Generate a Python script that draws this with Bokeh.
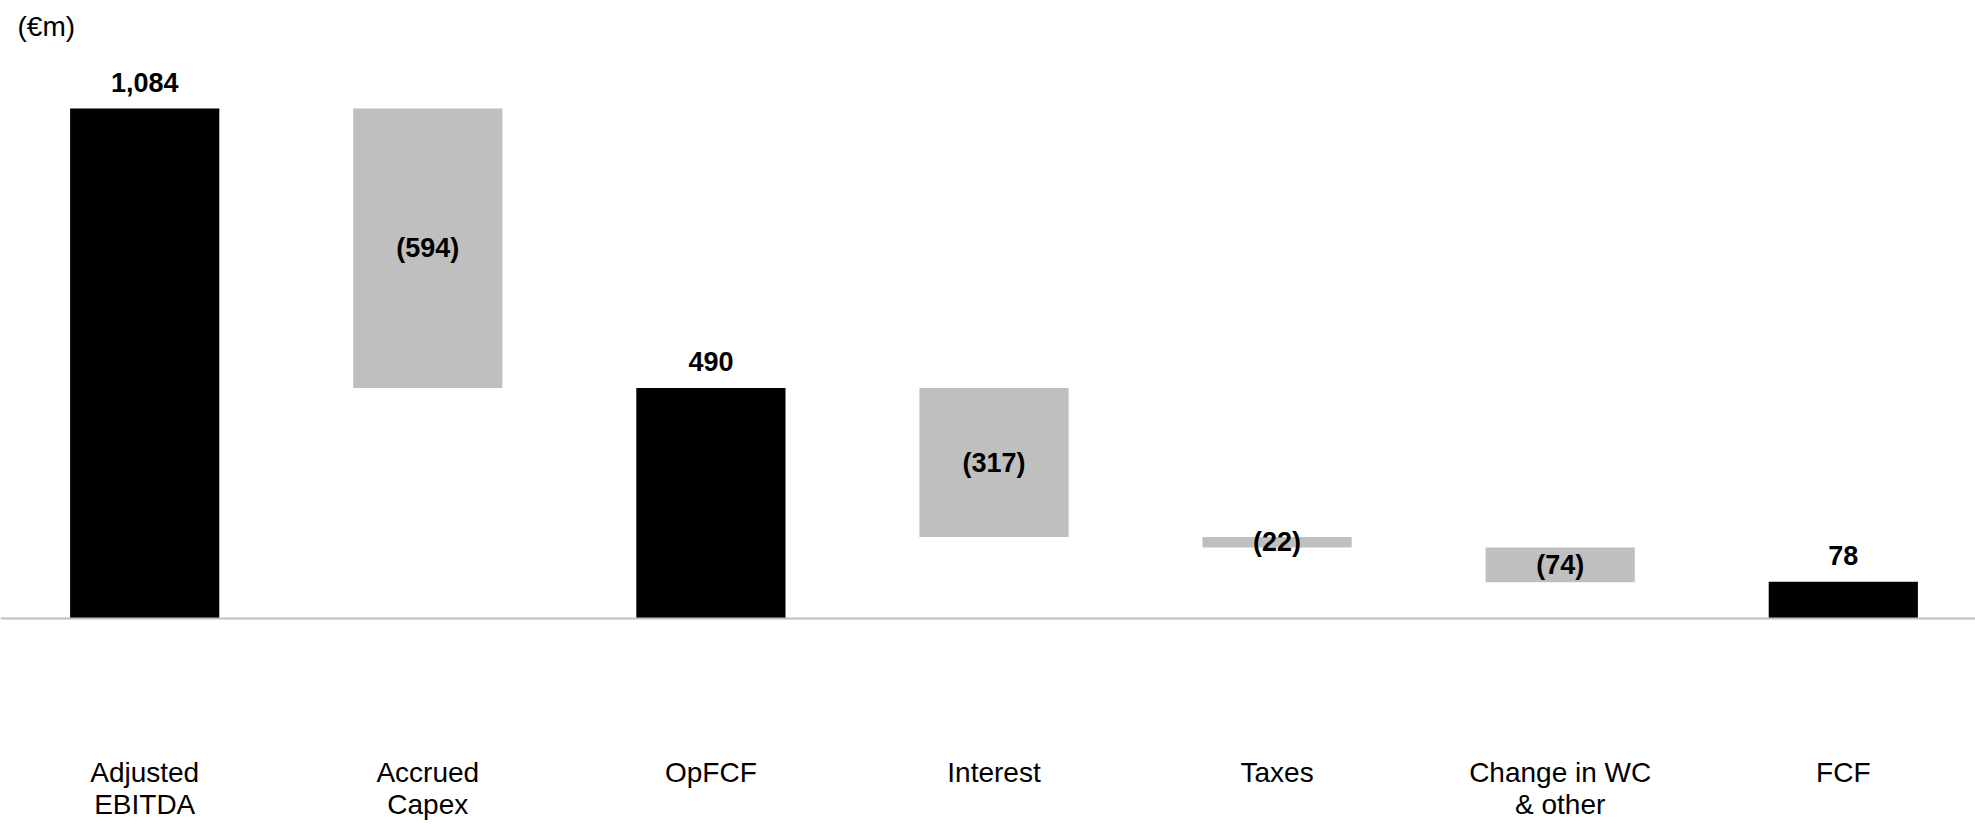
from bokeh.plotting import figure
from bokeh.models import Range1d, FixedTicker, Span, Label, ColumnDataSource
from bokeh.core.properties import value
from bokeh.embed import file_html
from bokeh.resources import INLINE

# ---- data ----
categories = ["Adjusted\nEBITDA", "Accrued\nCapex", "OpFCF", "Interest", "Taxes", "Change in WC\n& other", "FCF"]
amounts = [1084, -594, 490, -317, -22, -74, 78]
is_total = [True, False, True, False, False, False, True]
value_labels = ["1,084", "(594)", "490", "(317)", "(22)", "(74)", "78"]
unit_label = "(€m)"

TOTAL_COLOR = "#000000"
DELTA_COLOR = "#BFBFBF"
FONT = "Liberation Sans"

# ---- waterfall geometry from data ----
xs, bottoms, tops, colors = [], [], [], []
level = 0
for i, (amt, tot) in enumerate(zip(amounts, is_total)):
    xs.append(i)
    if tot:
        bottoms.append(0)
        tops.append(amt)
        level = amt
        colors.append(TOTAL_COLOR)
    else:
        start = level
        level = level + amt
        bottoms.append(min(start, level))
        tops.append(max(start, level))
        colors.append(DELTA_COLOR)

src = ColumnDataSource(dict(x=xs, bottom=bottoms, top=tops, color=colors))

tot_x = [x for x, t in zip(xs, is_total) if t]
tot_y = [tp for tp, t in zip(tops, is_total) if t]
tot_txt = [l for l, t in zip(value_labels, is_total) if t]
del_x = [x for x, t in zip(xs, is_total) if not t]
del_y = [(b + tp) / 2 for b, tp, t in zip(bottoms, tops, is_total) if not t]
del_txt = [l for l, t in zip(value_labels, is_total) if not t]

FRAME_H = 664
p = figure(width=1975, height=825, output_backend="svg", toolbar_location=None,
           x_range=Range1d(-0.5094, 6.467), y_range=Range1d(-97.8, 1313.5),
           min_border_left=0, min_border_right=0, min_border_top=0,
           min_border_bottom=825 - FRAME_H)
p.outline_line_color = None
p.xgrid.visible = False
p.ygrid.visible = False
p.yaxis.visible = False
p.background_fill_color = "white"
p.border_fill_color = "white"

p.vbar(x="x", bottom="bottom", top="top", width=0.527, fill_color="color",
       line_color=None, source=src)

p.add_layout(Span(location=0, dimension="width", line_color=DELTA_COLOR, line_width=2))

p.text(x=tot_x, y=tot_y, text=tot_txt, text_align="center", text_baseline="middle",
       y_offset=-26, text_font=value(FONT), text_font_style="bold",
       text_font_size="27px", text_color="black")
p.text(x=del_x, y=del_y, text=del_txt, text_align="center", text_baseline="middle",
       text_font=value(FONT), text_font_style="bold",
       text_font_size="27px", text_color="black")

ax = p.xaxis[0]
ax.ticker = FixedTicker(ticks=xs)
ax.major_label_overrides = {i: c for i, c in zip(xs, categories)}
ax.axis_line_color = None
ax.major_tick_line_color = None
ax.minor_tick_line_color = None
ax.major_label_standoff = 86
ax.major_label_text_font = FONT
ax.major_label_text_font_size = "28px"
ax.major_label_text_line_height = 1.05
ax.major_label_text_color = "black"

p.add_layout(Label(x=17, y=FRAME_H - 26, x_units="screen", y_units="screen", text=unit_label,
                   text_font=FONT, text_font_size="28px", text_baseline="middle",
                   text_color="black"))

open("out.html", "w").write(file_html(p, INLINE))
